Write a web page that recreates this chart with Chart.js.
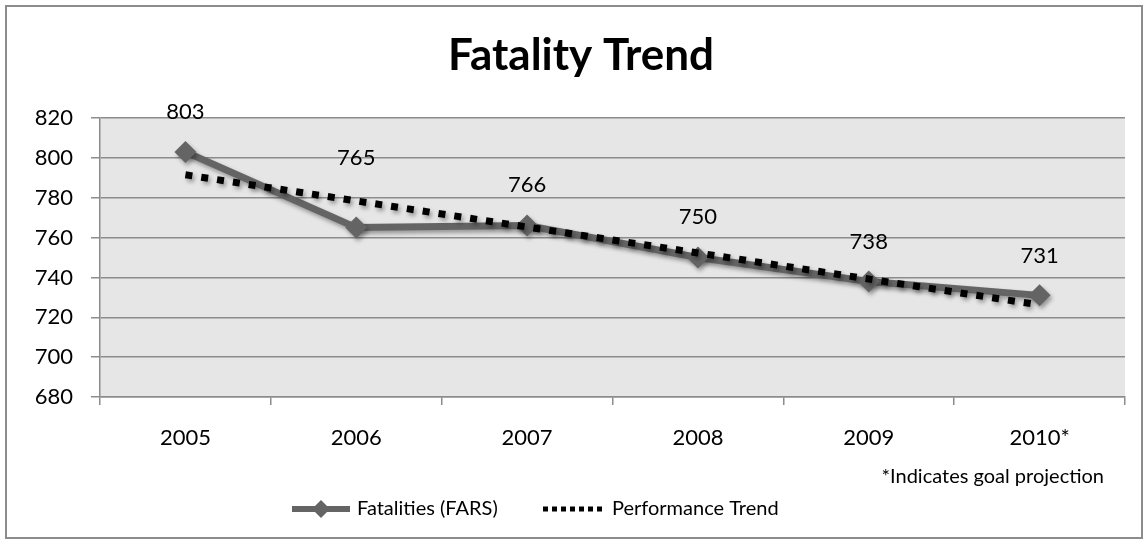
<!DOCTYPE html>
<html>
<head>
<meta charset="utf-8">
<script src="https://cdn.jsdelivr.net/npm/chart.js@4"></script>
<style>
  html, body { margin: 0; padding: 0; background: #fff; }
  #wrap { width: 1148px; height: 544px; position: relative; }
</style>
</head>
<body>
<div id="wrap"><canvas id="chart" width="1148" height="544"></canvas></div>
<script>
// data
var years = ["2005", "2006", "2007", "2008", "2009", "2010*"];
var fatalities = [803, 765, 766, 750, 738, 731];
var trend = [791.5, 778.4, 765.3, 752.3, 739.2, 726.2];
var yTicks = [680, 700, 720, 740, 760, 780, 800, 820];

// how far above each point its label sits (px)
var labelLift = [40, 70, 41, 41, 40, 39];

var FONT = "Lato, 'Open Sans', sans-serif";
var GRAY = "#646464";

// background, frame, title, note, legend and value labels
var decor = {
  id: "decor",
  beforeDraw: function(chart) {
    var ctx = chart.ctx, a = chart.chartArea;
    ctx.save();
    ctx.fillStyle = "#fff";
    ctx.fillRect(0, 0, chart.width, chart.height);
    ctx.fillStyle = "#e6e6e6";
    ctx.fillRect(a.left, a.top, a.right - a.left, a.bottom - a.top);
    ctx.strokeStyle = "#8c8c8c";
    ctx.lineWidth = 2;
    ctx.strokeRect(6, 6, chart.width - 12, chart.height - 12);
    ctx.restore();
  },
  beforeDatasetsDraw: function(chart) {
    var ctx = chart.ctx;
    ctx.save();
    ctx.shadowColor = "rgba(0,0,0,0.35)";
    ctx.shadowBlur = 4;
    ctx.shadowOffsetX = 2;
    ctx.shadowOffsetY = 3;
  },
  afterDatasetsDraw: function(chart) {
    chart.ctx.restore();
  },
  afterDraw: function(chart) {
    var ctx = chart.ctx;
    ctx.save();
    ctx.fillStyle = "#000";
    ctx.textAlign = "center";
    ctx.textBaseline = "middle";
    ctx.font = "bold 44px " + FONT;
    ctx.fillText("Fatality Trend", 581, 56);

    // value labels
    ctx.font = "22px " + FONT;
    var meta = chart.getDatasetMeta(0);
    meta.data.forEach(function(pt, i) {
      ctx.fillText(String(fatalities[i]), pt.x, pt.y - labelLift[i]);
    });

    // note
    ctx.font = "20px " + FONT;
    ctx.textAlign = "right";
    ctx.fillText("*Indicates goal projection", 1104, 477);

    // legend
    var ly = 509;
    ctx.strokeStyle = GRAY;
    ctx.lineWidth = 6;
    ctx.beginPath();
    ctx.moveTo(292, ly); ctx.lineTo(350, ly);
    ctx.stroke();
    ctx.fillStyle = GRAY;
    ctx.beginPath();
    ctx.moveTo(321, ly - 9); ctx.lineTo(330, ly); ctx.lineTo(321, ly + 9); ctx.lineTo(312, ly);
    ctx.closePath();
    ctx.fill();
    ctx.strokeStyle = "#000";
    ctx.lineWidth = 5;
    ctx.setLineDash([5, 4]);
    ctx.beginPath();
    ctx.moveTo(543, ly); ctx.lineTo(604, ly);
    ctx.stroke();
    ctx.setLineDash([]);
    ctx.fillStyle = "#000";
    ctx.textAlign = "left";
    ctx.font = "20px " + FONT;
    ctx.fillText("Fatalities (FARS)", 357, ly);
    ctx.fillText("Performance Trend", 612, ly);
    ctx.restore();
  }
};

var ctx = document.getElementById("chart").getContext("2d");
var myChart = new Chart(ctx, {
  type: "line",
  data: {
    labels: years,
    datasets: [{
      label: "Fatalities (FARS)",
      data: fatalities,
      borderColor: GRAY,
      backgroundColor: GRAY,
      borderWidth: 7,
      lineTension: 0,
      pointStyle: "rectRot",
      pointRadius: 11,
      pointBackgroundColor: GRAY,
      pointBorderColor: GRAY,
      pointBorderWidth: 0,
      order: 1
    }, {
      label: "Performance Trend",
      data: trend,
      borderColor: "#000",
      borderWidth: 7,
      borderDash: [7, 9],
      lineTension: 0,
      pointRadius: 0,
      fill: false,
      order: 0
    }]
  },
  options: {
    responsive: false,
    animation: false,
    events: [],
    layout: { padding: { left: 5, right: 23, top: 118, bottom: 87 } },
    plugins: {
      legend: { display: false },
      title: { display: false },
      tooltip: { enabled: false }
    },
    scales: {
      x: {
        offset: true,
        grid: { offset: true, drawOnChartArea: false, drawTicks: true, tickLength: 8, color: "#8c8c8c", lineWidth: 1.5 },
        border: { color: "#8c8c8c", width: 1.5 },
        ticks: { color: "#000", font: { family: FONT, size: 22 }, padding: 20 },
        afterFit: function(s) { s.height = 60; }
      },
      y: {
        min: 680,
        max: 820,
        afterBuildTicks: function(s) { s.ticks = yTicks.map(function(v) { return { value: v }; }); },
        grid: { color: "#8c8c8c", lineWidth: 1.5, tickLength: 9 },
        border: { color: "#8c8c8c", width: 1.5 },
        ticks: { color: "#000", font: { family: FONT, size: 22 }, padding: 18 },
        afterFit: function(s) { s.width = 95; }
      }
    }
  },
  plugins: [decor]
});
</script>
</body>
</html>
